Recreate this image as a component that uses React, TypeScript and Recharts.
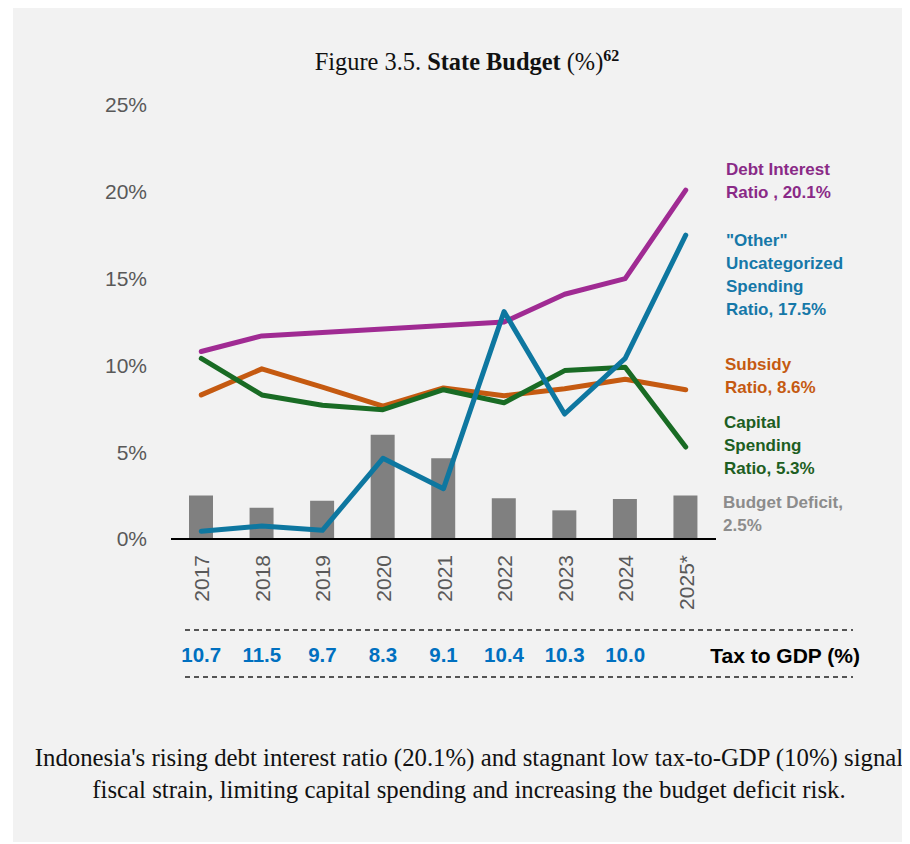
import React from "react";
import { ComposedChart, Bar, Line, XAxis, YAxis } from "recharts";

// values (% )
const years = ["2017", "2018", "2019", "2020", "2021", "2022", "2023", "2024", "2025*"];
const debtInterest = [10.8, 11.7, 11.9, 12.1, 12.3, 12.5, 14.1, 15.0, 20.1];
const otherSpending = [0.45, 0.75, 0.5, 4.65, 2.9, 13.1, 7.2, 10.4, 17.5];
const subsidy = [8.3, 9.8, 8.75, 7.65, 8.7, 8.25, 8.65, 9.2, 8.6];
const capitalSpending = [10.4, 8.3, 7.7, 7.45, 8.6, 7.85, 9.7, 9.9, 5.3];
const budgetDeficit = [2.5, 1.8, 2.2, 6.0, 4.65, 2.35, 1.65, 2.3, 2.5];
const taxToGdp = ["10.7", "11.5", "9.7", "8.3", "9.1", "10.4", "10.3", "10.0", ""];
const yTicks = [0, 5, 10, 15, 20, 25];

const data = years.map((year, i) => ({
  year,
  debt: debtInterest[i],
  other: otherSpending[i],
  subsidy: subsidy[i],
  capital: capitalSpending[i],
  deficit: budgetDeficit[i],
}));

const SANS = "'Liberation Sans', Arial, sans-serif";
const SERIF = "'Liberation Serif', 'Times New Roman', serif";

// year label (rotated) plus the tax-to-GDP value underneath it
const YearTick = (props: any) => {
  const { x, y, payload, index } = props;
  const ax = x + 8;
  const ay = y + 16;
  return (
    <g>
      <text
        x={ax}
        y={ay}
        transform={`rotate(-90 ${ax} ${ay})`}
        textAnchor="end"
        fill="#595959"
        fontSize={21}
        fontFamily={SANS}
      >
        {payload.value}
      </text>
      <text
        x={x}
        y={y + 116}
        dy="0.36em"
        textAnchor="middle"
        fill="#0070c0"
        fontSize={20.5}
        fontWeight="bold"
        fontFamily={SANS}
      >
        {taxToGdp[index]}
      </text>
    </g>
  );
};

const labelBase: React.CSSProperties = {
  position: "absolute",
  fontFamily: SANS,
  fontWeight: "bold",
  fontSize: 17,
  lineHeight: "23px",
  whiteSpace: "nowrap",
};

export default function App() {
  return (
    <div
      style={{
        position: "relative",
        width: 895,
        height: 834,
        marginLeft: 5,
        background: "#f2f2f2",
      }}
    >
      <div
        style={{
          position: "absolute",
          top: 39,
          left: 0,
          right: 0,
          paddingLeft: 13,
          textAlign: "center",
          fontFamily: SERIF,
          fontSize: 24.4,
          lineHeight: "30px",
          color: "#111",
          whiteSpace: "nowrap",
        }}
      >
        Figure 3.5. <b>State Budget</b> (%)
        <b style={{ fontSize: 16, position: "relative", top: -9 }}>62</b>
      </div>

      <div style={{ position: "absolute", top: 0, left: 0 }}>
        <ComposedChart
          width={895}
          height={680}
          data={data}
          margin={{ top: 97, right: 192, bottom: 0, left: 88 }}
          barCategoryGap={0}
        >
          <XAxis
            dataKey="year"
            height={149}
            interval={0}
            tickLine={false}
            tickSize={0}
            tickMargin={0}
            axisLine={{ stroke: "#000", strokeWidth: 2 }}
            tick={<YearTick />}
          />
          <YAxis
            domain={[0, 25]}
            ticks={yTicks}
            width={70}
            axisLine={false}
            tickLine={false}
            tickSize={0}
            tickMargin={24}
            tickFormatter={(v: number) => `${v}%`}
            tick={{ fill: "#595959", fontSize: 21, fontFamily: SANS }}
          />
          <Bar
            dataKey="deficit"
            name="Budget Deficit"
            fill="#808080"
            barSize={24}
            isAnimationActive={false}
          />
          <Line
            dataKey="subsidy"
            name="Subsidy Ratio"
            stroke="#c55a11"
            strokeWidth={5}
            strokeLinecap="round"
            strokeLinejoin="round"
            dot={false}
            activeDot={false}
            isAnimationActive={false}
          />
          <Line
            dataKey="capital"
            name="Capital Spending Ratio"
            stroke="#196b24"
            strokeWidth={5}
            strokeLinecap="round"
            strokeLinejoin="round"
            dot={false}
            activeDot={false}
            isAnimationActive={false}
          />
          <Line
            dataKey="debt"
            name="Debt Interest Ratio"
            stroke="#a02b93"
            strokeWidth={5}
            strokeLinecap="round"
            strokeLinejoin="round"
            dot={false}
            activeDot={false}
            isAnimationActive={false}
          />
          <Line
            dataKey="other"
            name="Other Uncategorized Spending Ratio"
            stroke="#0e77a0"
            strokeWidth={5}
            strokeLinecap="round"
            strokeLinejoin="round"
            dot={false}
            activeDot={false}
            isAnimationActive={false}
          />
        </ComposedChart>
      </div>

      {/* series labels at the right end of the lines */}
      <div style={{ ...labelBase, top: 150, left: 713, color: "#8a2a87" }}>
        Debt Interest
        <br />
        Ratio , 20.1%
      </div>
      <div style={{ ...labelBase, top: 221, left: 713, color: "#1678a8" }}>
        "Other"
        <br />
        Uncategorized
        <br />
        Spending
        <br />
        Ratio, 17.5%
      </div>
      <div style={{ ...labelBase, top: 345, left: 712, color: "#c55a11" }}>
        Subsidy
        <br />
        Ratio, 8.6%
      </div>
      <div style={{ ...labelBase, top: 403, left: 711, color: "#1d5e22" }}>
        Capital
        <br />
        Spending
        <br />
        Ratio, 5.3%
      </div>
      <div style={{ ...labelBase, top: 483, left: 710, color: "#8c8c8c" }}>
        Budget Deficit,
        <br />
        2.5%
      </div>

      {/* tax to GDP row frame */}
      <svg
        width={895}
        height={700}
        style={{ position: "absolute", top: 0, left: 0, pointerEvents: "none" }}
      >
        <line x1={172} x2={840} y1={622} y2={622} stroke="#222" strokeWidth={1.3} strokeDasharray="5 4" />
        <line x1={172} x2={840} y1={669} y2={669} stroke="#222" strokeWidth={1.3} strokeDasharray="5 4" />
        <text
          x={847}
          y={647}
          dy="0.36em"
          textAnchor="end"
          fontFamily={SANS}
          fontWeight="bold"
          fontSize={21}
          fill="#000"
        >
          Tax to GDP (%)
        </text>
      </svg>

      <div
        style={{
          position: "absolute",
          top: 734,
          left: 0,
          right: 0,
          paddingLeft: 17,
          textAlign: "center",
          fontFamily: SERIF,
          fontSize: 24.8,
          lineHeight: "32px",
          color: "#111",
          whiteSpace: "nowrap",
        }}
      >
        Indonesia's rising debt interest ratio (20.1%) and stagnant low tax-to-GDP (10%) signal
        <br />
        fiscal strain, limiting capital spending and increasing the budget deficit risk.
      </div>
    </div>
  );
}
